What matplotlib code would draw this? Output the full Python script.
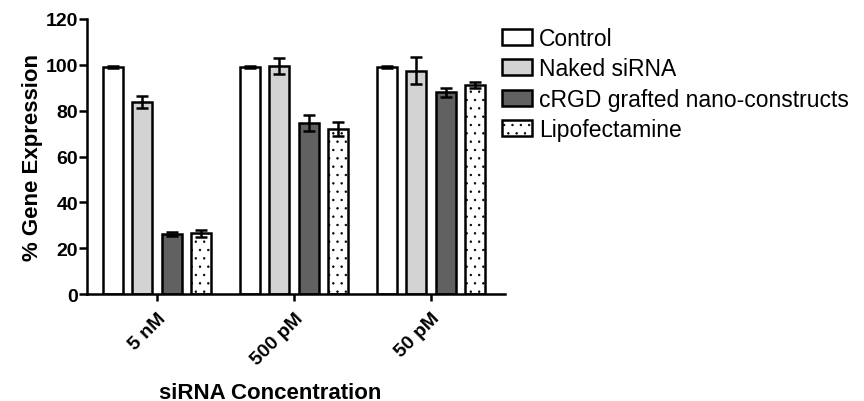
import matplotlib
matplotlib.use("Agg")
import matplotlib.pyplot as plt
import numpy as np

plt.rcParams['font.family'] = ['Liberation Sans', 'DejaVu Sans']
plt.rcParams['hatch.color'] = '#9a9a9a'
plt.rcParams['hatch.linewidth'] = 0.5

categories = ["5 nM", "500 pM", "50 pM"]
series = ["Control", "Naked siRNA", "cRGD grafted nano-constructs", "Lipofectamine"]
control = [99.0, 99.0, 99.0]
control_err = [0.5, 0.5, 0.5]
naked = [83.7, 99.7, 97.5]
naked_err = [2.5, 3.5, 6.0]
crgd = [26.2, 74.7, 88.0]
crgd_err = [0.7, 3.5, 2.0]
lipo = [26.5, 72.0, 91.4]
lipo_err = [1.5, 3.0, 1.3]

values = [control, naked, crgd, lipo]
errors = [control_err, naked_err, crgd_err, lipo_err]
faces = ['white', '#d3d3d3', '#616161', 'white']
hatches = [None, None, None, '..']

fig = plt.figure(figsize=(8.64, 4.02), dpi=100)
ax = fig.add_axes([87/864, 1-295/402, (505-87)/864, (295-20)/402])

x = np.arange(len(categories))
step = 0.215
width = 0.143
offsets = [-1.5*step, -0.5*step, 0.5*step, 1.5*step]
for i in range(4):
    ax.bar(x + offsets[i], values[i], width, yerr=errors[i], color=faces[i],
           edgecolor='black', linewidth=1.8, hatch=hatches[i], label=series[i],
           error_kw=dict(ecolor='black', elinewidth=1.8, capsize=4, capthick=1.8),
           zorder=2)

ax.set_xlim(-0.511, 2.54)
ax.set_ylim(0, 120)
ax.set_yticks([0, 20, 40, 60, 80, 100, 120])
ax.set_xticks(x)
ax.set_xticklabels(categories, rotation=45, ha='right', rotation_mode='anchor',
                   fontsize=14, fontweight='bold')
for lab in ax.get_yticklabels():
    lab.set_fontsize(14)
    lab.set_fontweight('bold')
ax.spines['top'].set_visible(False)
ax.spines['right'].set_visible(False)
ax.spines['left'].set_linewidth(1.8)
ax.spines['bottom'].set_linewidth(1.8)
ax.tick_params(axis='y', width=1.8, length=6, pad=0.5)
ax.tick_params(axis='x', width=1.8, length=5, pad=6)
ax.set_ylabel('% Gene Expression', fontsize=16, fontweight='bold', labelpad=2)
ax.set_xlabel('siRNA Concentration', fontsize=16, fontweight='bold', labelpad=10)
ax.xaxis.label.set_x((270-87)/418)

leg = fig.legend(loc='upper left', bbox_to_anchor=(502/864, 1-28/402), frameon=False,
                 fontsize=16.5, handlelength=1.3, handleheight=0.7,
                 handletextpad=0.3, labelspacing=0.32, borderaxespad=0, borderpad=0)

fig.savefig('out.png', dpi=100)
